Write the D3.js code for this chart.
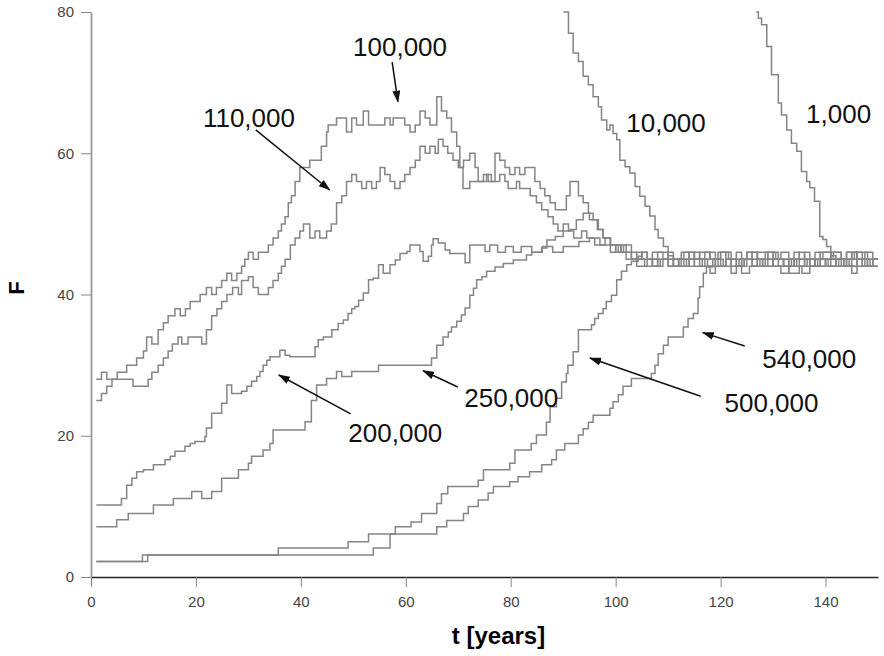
<!DOCTYPE html>
<html>
<head>
<meta charset="utf-8">
<script src="https://cdn.jsdelivr.net/npm/d3@7"></script>
<style>
  body { margin: 0; background: #fff; }
  svg { font-family: "Liberation Sans", Arial, sans-serif; }
  .axis text { font-size: 15px; fill: #444; }
  .axis .tick line { stroke: #888; }
  .series { fill: none; stroke: #858585; stroke-width: 1.5; }
  .note { font-size: 26px; fill: #111; text-anchor: middle; }
  .arrow { stroke: #111; stroke-width: 1.5; }
</style>
</head>
<body>
<svg id="plot"></svg>
<script>
const margin = { top: 12, right: 6, bottom: 79, left: 91 };
const width = 884 - margin.left - margin.right;
const height = 656 - margin.top - margin.bottom;

// step series, [t, F] change points
const s1000 = [[126.8,80],[127.2,79.1],[127.8,78.2],[128.8,75.1],[129.7,71.1],[131,67.1],[131.6,65.4],[132.6,63.3],[133.5,61.4],[134.5,60.3],[135.4,57.4],[136.4,56],[137,55.1],[137.9,53.2],[138.9,48.2],[139.5,47.8],[140.2,46.8],[141,45.5],[142,44],[143.5,45],[145,46],[146,45],[147.5,44],[149,45],[150,45]];

const s10000 = [[90,80],[91,77],[91.9,74.2],[92.9,73],[93.8,70.9],[94.8,69.7],[95.7,68],[96.7,66.6],[97.3,64.7],[98.3,63.3],[98.9,64],[99.5,62.8],[100.2,61.9],[100.8,59],[101.8,58.1],[102.7,57.2],[103.7,55.3],[104.6,53.9],[105.6,52.5],[106.5,51.1],[107.5,49.2],[108.1,48],[109.1,46.8],[110,45.5],[111,45],[112,44],[113.5,45],[115,46],[116,45],[117.5,44],[119,45],[120,46],[121.5,45],[123,44],[124.5,45],[126,46],[127,45],[128.5,44],[130,45],[131.5,46],[133,45],[134,44],[135.5,43],[137,44],[138,45],[139.5,46],[141,45],[142.5,44],[144,45],[145.5,46],[147,45],[148.5,44],[150,44]];

const s100000 = [[1,28],[2,29],[3,28],[5,29],[6.8,30],[8.7,31],[10,32],[10.6,34],[11.6,33],[12.8,35],[13.8,36],[14.7,37],[16,38],[17,37],[18,38],[18.9,39],[20.8,40],[22,41],[23,40],[23.9,41],[24.9,42],[25.9,43],[26.8,42],[27.8,43],[28.7,44],[29.3,45],[30,46],[30.9,45],[31.9,46],[33.8,47],[34.7,48],[35.7,49],[36.3,50],[37,51],[37.6,53],[38.2,54],[38.9,56],[39.8,58],[41.7,59],[43.9,61],[44.9,63],[45.2,64],[46.8,65],[48.7,63],[49.7,65],[50.6,64],[51.9,66],[52.9,64],[56,65],[57,64],[57.6,65],[59.8,64],[60.8,63],[61.8,64],[62.7,66],[63.7,65],[64.6,64],[65.9,68],[66.8,66],[67.8,65],[68.7,63],[69.7,61],[70.3,58],[70.9,55],[72.2,56],[74.8,57],[75.7,56],[77,60],[77.9,59],[78.9,58],[79.8,57],[80.8,58],[81.7,57],[82.7,58],[84.6,56],[85.6,55],[86.5,54],[87.5,53],[88.5,52],[90.6,54],[91.3,56],[92.9,54],[93.8,53],[94.8,51.5],[95.7,50.6],[96.7,49.2],[97.6,48],[99,47],[101,46],[102,45],[104,46],[105,45],[107,44],[108,45],[110,46],[111,45],[113,44],[114,45],[116,46],[118,45],[120,44],[121,45],[123,46],[124,45],[126,44],[128,45],[130,46],[131,45],[133,44],[134,45],[136,44],[138,45],[139,46],[141,45],[143,44],[145,45],[146,46],[148,45],[150,45]];

const s110000 = [[1,25],[2,26],[3,27],[4,28],[8,27],[10.9,28],[11.6,29],[12.8,30],[13.8,31],[14.7,32],[15.5,33],[16.6,34],[17.3,33],[18.5,34],[21.1,33],[22,35],[23,37],[24,38],[24.9,39],[25.9,40],[27,41],[28.1,40],[28.7,42],[30,42.5],[30.9,41],[31.9,40],[33.8,41],[34.7,42],[35.7,43],[36.3,44],[37,45],[38,47],[38.9,48],[39.8,49],[40.5,50],[41.7,48],[42.7,49],[43.6,48],[44.9,49],[45.8,50],[46.8,53],[47.8,54],[48.7,56],[49.7,57],[50.6,56],[51.6,55],[52.5,56],[53.5,55],[54.4,56],[55.1,58],[56,57],[57,56],[57.9,55],[58.9,56],[59.8,57],[60.8,58],[61.8,59],[62.7,61],[63.7,60],[64.6,61],[65.6,60],[66.2,62],[67.1,61],[68,60],[69,59],[70,58],[71,59],[72.2,60],[73.2,58],[73.8,56],[75.4,57],[76.3,56],[77.9,57],[78.9,56],[79.5,55],[81.1,56],[81.7,55],[83.7,54],[84.9,53],[85.9,52],[87.1,51],[88.1,50],[89,49],[90,50],[91,49],[92,48],[93.5,49],[94.5,48],[96,47],[98,48],[99,47],[100,46],[101,47],[102,46],[103,45],[105,46],[106,45],[108,44],[109,45],[111,44],[112,45],[114,46],[115,45],[117,44],[119,45],[120,46],[122,45],[124,44],[125,45],[127,46],[129,45],[130,44],[132,45],[134,46],[135,45],[137,44],[139,45],[140,44],[142,45],[144,46],[145,45],[147,44],[149,45],[150,45]];

const s200000 = [[1,10.2],[5.8,11.1],[6.8,13],[7.8,14],[8.7,14.9],[10,15.2],[11.9,15.9],[14.1,16.6],[15.1,17.1],[16,17.8],[17.9,18.5],[18.9,18.9],[19.8,19.2],[21.7,19.9],[22,21.1],[23,23.2],[24.9,24.6],[25.9,27.2],[26.8,26],[28.7,26.3],[29.7,27],[30.6,27.7],[31.6,28.4],[32.2,29.1],[32.8,30],[33.5,30.7],[34.1,31.2],[36,32.1],[37,31.4],[37.9,31.2],[42.7,32.6],[43.3,33.6],[44.3,34],[45.9,35],[47.1,35.9],[48.1,36.4],[49,37.3],[49.7,38],[50.3,38.3],[51,39.2],[51.9,40.2],[52.9,42.1],[53.8,42.3],[54.8,44.2],[55.7,43],[57,44.2],[58,44.9],[58.9,45.8],[60.2,46.1],[60.8,47],[62.7,46.1],[63.3,44.7],[64.3,45.4],[64.9,47],[65.2,47.9],[66.2,47.3],[67.5,46.3],[68.4,45.8],[71.3,44.5],[72.2,47],[75.1,46.1],[76,47],[77.5,46],[79,46.8],[80.5,46],[82,46.8],[84,46],[86,46.8],[88,46],[90,46.8],[93,47.5],[95,48],[97,47],[99,46],[100,47],[101,46],[103,45],[104,44],[106,45],[107,46],[109,45],[110,44],[112,45],[113,46],[115,45],[116,44],[118,43],[119,44],[121,45],[122,44],[124,45],[125,46],[127,45],[128,44],[130,45],[132,44],[133,43],[135,44],[136,45],[138,44],[140,45],[141,46],[143,45],[144,44],[146,45],[148,44],[150,44]];

const s250000 = [[1,7.1],[4.9,8.1],[7.1,9],[11.9,10.2],[15.7,11.1],[19.2,12.1],[21.1,11.1],[23,12.1],[24.9,14],[28.1,15.2],[30,16.1],[30.6,17.1],[32.8,18],[34.1,18.9],[34.7,20.8],[40.8,22],[42,25],[43,27.2],[44.9,28.1],[46.8,29.1],[47.8,28.4],[49.7,29.1],[54.8,30],[64.9,31],[65.9,32.8],[67.1,34],[68.1,34.7],[68.7,35.4],[69.7,36.2],[70.6,37.1],[71.3,38.1],[72.2,39.9],[72.9,40.9],[73.5,42.1],[74.5,42.5],[75.4,43.3],[77,43.9],[78.6,44.4],[80.5,44.9],[83,45.6],[84,46],[85.9,46.6],[86.9,47.7],[88.5,48.2],[90,49],[91.3,49.2],[92.5,50.6],[93.8,51.5],[95,50.6],[96.5,49.2],[97.6,48],[99,47],[100.5,46],[101.5,47],[103,46],[104,45],[105.5,44],[107,45],[108,46],[110,45],[111,44],[112.5,45],[114,44],[115,45],[117,46],[118,45],[119.5,44],[121,45],[123,44],[124,43],[125.5,44],[127,45],[128.5,46],[130,45],[131,44],[133,45],[135,46],[136,45],[137,44],[139,45],[141,44],[142,45],[144,46],[146,45],[147,44],[149,45],[150,45]];

const s500000 = [[1,2.2],[9.8,3.1],[35.7,4.1],[49,5],[52.9,6.1],[58,7.1],[61,7.8],[63,9],[65.9,10.4],[66.8,11.8],[68,12.8],[73.8,13.7],[74.8,15.2],[79.8,16.1],[80.8,18],[83.9,18.9],[84.9,20.1],[86.8,21.9],[87.5,24.1],[88.7,25.3],[89.7,27.6],[90.6,28.8],[90.9,30],[91.9,31.9],[92.9,35],[95.4,35.7],[96,36.6],[96.7,37.3],[97.6,38],[98.2,39],[99.2,39.9],[100.2,42.1],[101.1,43.3],[102.1,44.2],[103,44.7],[104.3,45.4],[105,46],[106,45],[107,44],[108.5,45],[110,44],[111,45],[112.5,46],[114,45],[115,44],[116.5,45],[118,46],[119,45],[120.5,44],[122,43],[123,44],[124.5,45],[126,44],[127,45],[129,46],[130.5,45],[132,44],[133.5,45],[135,44],[136.5,45],[138,46],[139,45],[140.5,44],[142,45],[143.5,44],[145,43],[146,44],[148,45],[150,45]];

const s540000 = [[1,2.2],[10.8,3.1],[53.8,4.1],[57,6.1],[65.9,7.1],[67.8,8],[71,9],[71.9,10],[73.8,10.9],[75.7,11.9],[76.7,12.8],[79.8,13.5],[81.4,14.2],[83.6,14.9],[85.9,15.9],[87.8,16.6],[88.7,18],[90.3,18.9],[92.9,20.1],[93.8,21],[94.8,21.9],[95.7,22.9],[98.9,23.9],[99.5,24.8],[100.5,25.8],[101.4,27],[103,28.1],[106.8,28.8],[107.5,30],[108.1,31.6],[109.1,32.8],[110,34],[112.9,35.4],[113.8,36.6],[114.8,37.3],[115.7,39.5],[116,41.1],[116.7,43],[117.3,43.9],[118.5,45],[119.5,46],[121,45],[122,44],[123.5,45],[125,46],[126,45],[127.5,44],[129,45],[130,44],[131.5,43],[133,44],[134.5,45],[136,46],[137,45],[138.5,44],[140,45],[141.5,46],[143,45],[144.5,44],[146,45],[147.5,46],[149,45],[150,45]];

const seriesList = [s1000, s10000, s100000, s110000, s200000, s250000, s500000, s540000];

const xTicks = [0, 20, 40, 60, 80, 100, 120, 140];
const yTicks = [0, 20, 40, 60, 80];

// annotations in data units: label, text anchor [t, F], arrow from / to
const notes = [
  { label: "100,000", at: [58.9, 73.7], from: [57.4, 72.9], to: [58.5, 67.3] },
  { label: "110,000", at: [30.1, 63.7], from: [31.4, 63.3], to: [45.5, 54.8] },
  { label: "10,000", at: [109.6, 63.0] },
  { label: "1,000", at: [142.5, 64.3] },
  { label: "200,000", at: [58.0, 19.1], from: [49.5, 23.1], to: [35.8, 28.6] },
  { label: "250,000", at: [80.1, 24.1], from: [69.9, 26.9], to: [63.3, 29.2] },
  { label: "500,000", at: [129.7, 23.4], from: [116.2, 25.6], to: [95.1, 31.0] },
  { label: "540,000", at: [136.9, 29.6], from: [124.6, 32.7], to: [116.6, 34.6] },
];

const svg = d3
  .select("#plot")
  .attr("width", width + margin.left + margin.right)
  .attr("height", height + margin.top + margin.bottom)
  .append("g")
  .attr("transform", `translate(${margin.left},${margin.top})`);

const xScale = d3.scaleLinear().domain([0, 150]).range([0, width]);
const yScale = d3.scaleLinear().domain([0, 80]).range([height, 0]);

svg.append("defs").append("clipPath").attr("id", "clip")
  .append("rect").attr("width", width).attr("height", height + 1).attr("y", -1);

svg.select("defs").append("marker")
  .attr("id", "head")
  .attr("viewBox", "0 0 12 8")
  .attr("refX", 11)
  .attr("refY", 4)
  .attr("markerWidth", 12)
  .attr("markerHeight", 8)
  .attr("markerUnits", "userSpaceOnUse")
  .attr("orient", "auto")
  .append("path")
  .attr("d", "M0,0L12,4L0,8Z")
  .attr("fill", "#111");

// Axes
const xAxis = svg.append("g")
  .attr("class", "axis")
  .attr("transform", `translate(0,${height})`)
  .call(d3.axisBottom(xScale).tickValues(xTicks).tickSize(10).tickSizeOuter(0).tickPadding(9));
xAxis.select(".domain").attr("stroke", "#222").attr("stroke-width", 1.5);

const yAxis = svg.append("g")
  .attr("class", "axis")
  .call(d3.axisLeft(yScale).tickValues(yTicks).tickSize(10).tickSizeOuter(0).tickPadding(7));
yAxis.select(".domain").attr("stroke", "#999").attr("stroke-width", 1.8);

// Series
const line = d3.line()
  .x((d) => xScale(d[0]))
  .y((d) => yScale(d[1]))
  .curve(d3.curveStepAfter);

svg.append("g")
  .attr("clip-path", "url(#clip)")
  .selectAll(".series")
  .data(seriesList)
  .enter()
  .append("path")
  .attr("class", "series")
  .attr("d", line);

// Annotations
svg.selectAll(".arrow")
  .data(notes.filter((d) => d.from))
  .enter()
  .append("line")
  .attr("class", "arrow")
  .attr("x1", (d) => xScale(d.from[0]))
  .attr("y1", (d) => yScale(d.from[1]))
  .attr("x2", (d) => xScale(d.to[0]))
  .attr("y2", (d) => yScale(d.to[1]))
  .attr("marker-end", "url(#head)");

svg.selectAll(".note")
  .data(notes)
  .enter()
  .append("text")
  .attr("class", "note")
  .attr("x", (d) => xScale(d.at[0]))
  .attr("y", (d) => yScale(d.at[1]))
  .text((d) => d.label);

// Axis labels
svg.append("text")
  .attr("x", width / 2 + 14)
  .attr("y", height + 67)
  .attr("text-anchor", "middle")
  .style("font-size", "24px")
  .style("font-weight", "bold")
  .text("t [years]");

svg.append("text")
  .attr("transform", "rotate(-90)")
  .attr("x", -(288 - margin.top))
  .attr("y", -67)
  .attr("text-anchor", "middle")
  .style("font-size", "22px")
  .style("font-weight", "bold")
  .text("F");
</script>
</body>
</html>
